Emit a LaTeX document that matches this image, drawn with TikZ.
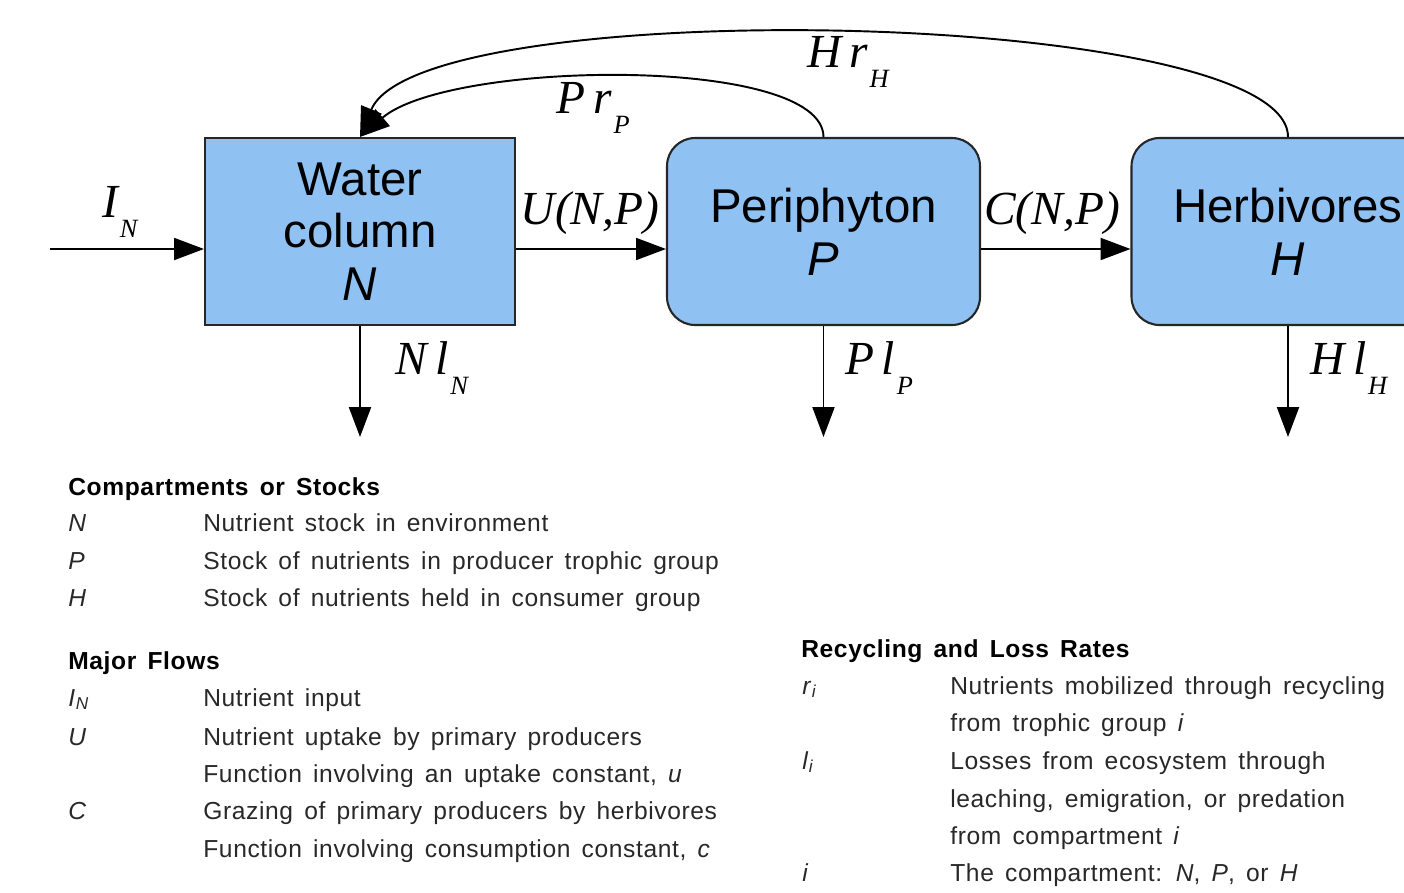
\documentclass[tikz,border=0pt]{standalone}
\usepackage{fontspec}
\setmainfont{Liberation Sans}
\newfontfamily\timesfont{Liberation Serif}
\newfontfamily\legendfont[LetterSpace=2.5, WordSpace=1.5]{Liberation Sans}
\usetikzlibrary{arrows.meta, positioning, calc}
\definecolor{boxblue}{RGB}{143,194,242}
\definecolor{legendtext}{RGB}{40,40,40}
\newcommand{\subs}[1]{\kern1pt\raisebox{-11pt}{\fontsize{15}{15}\selectfont #1}}

\begin{document}
\begin{tikzpicture}[
				x=0.02cm, y=-0.02cm,
				stock/.style={rectangle, draw=black!85, line width=1.2pt, fill=boxblue,
					minimum width=6.2cm, minimum height=3.74cm, align=center,
					font=\fontsize{27}{30}\selectfont, inner sep=0pt},
				roundstock/.style={stock, rounded corners=0.56cm, minimum width=6.26cm},
				flow/.style={-{Triangle[length=17pt, width=12.5pt]}, line width=1.1pt},
				rate/.style={font=\timesfont\itshape\fontsize{27}{30}\selectfont, inner sep=0pt},
				head/.style={anchor=base west, font=\legendfont\bfseries\fontsize{14}{16}\selectfont, inner sep=0pt},
				entry/.style={anchor=base west, font=\legendfont\fontsize{14}{16}\selectfont, text=legendtext, inner sep=0pt}
				]
				\clip (0,0) rectangle (1404,893);
				
				% --- Compartments ---
				\node[stock] (water) at (360,231.5) {Water\\ column\\ \textit{N}};
				\node[roundstock] (peri) at (823.5,231.5) {Periphyton\\ \textit{P}};
				\node[roundstock] (herb) at (1288,231.5) {Herbivores\\ \textit{H}};
				
				% --- Horizontal flows ---
				\coordinate (input) at (50,249);
				\draw[flow] (input) -- (input -| water.west);
				\draw[flow] ([yshift=-0.35cm]water.east) -- ([yshift=-0.35cm]peri.west);
				\draw[flow] ([yshift=-0.35cm]peri.east) -- ([yshift=-0.35cm]herb.west);
				\node[rate] (lblin) at (120,212) {I\subs{N}};
				\node[rate] (lbluptake) at (590,213) {U(N,P)};
				\node[rate] (lblgraze) at (1052,213) {C(N,P)};
				
				% --- Losses ---
				\coordinate (lossN) at (360,437);
				\coordinate (lossP) at (823.5,437);
				\coordinate (lossH) at (1288,437);
				\draw[flow] (water.south) -- (lossN);
				\draw[flow] (peri.south) -- (lossP);
				\draw[flow] (herb.south) -- (lossH);
				\node[rate] (lblNl) at (432,368) {N\,l\subs{N}};
				\node[rate] (lblPl) at (879,368) {P\,l\subs{P}};
				\node[rate] (lblHl) at (1349,368) {H\,l\subs{H}};
				
				% --- Recycling ---
				\draw[flow] (peri.north) .. controls (823,55) and (450,60) .. (water.north);
				\draw[flow] (herb.north) .. controls (1288,8) and (420,-8) .. (water.north);
				\node[rate] (lblPr) at (593,108) {P\,r\subs{P}};
				\node[rate] (lblHr) at (848,62) {H\,r\subs{H}};
				
				% --- Legend: compartments and flows ---
				\node[head] (hstocks) at (68,495) {Compartments or Stocks};
				\foreach \y/\sym/\txt in {531/{\textit{N}}/{Nutrient stock in environment},
						569/{\textit{P}}/{Stock of nutrients in producer trophic group},
						606/{\textit{H}}/{Stock of nutrients held in consumer group}}
					{\node[entry] at (68,\y) {\sym};
					 \node[entry] at (203,\y) {\txt};}
				\node[head] (hflows) at (68,669) {Major Flows};
				\foreach \y/\sym/\txt in {706/{\textit{I}\textsubscript{\textit{N}}}/{Nutrient input},
						745/{\textit{U}}/{Nutrient uptake by primary producers},
						782/{}/{Function involving an uptake constant, \textit{u}},
						819/{\textit{C}}/{Grazing of primary producers by herbivores},
						857/{}/{Function involving consumption constant, \textit{c}}}
					{\node[entry] at (68,\y) {\sym};
					 \node[entry] at (203,\y) {\txt};}
				
				% --- Legend: rates ---
				\node[head] (hrates) at (801,657) {Recycling and Loss Rates};
				\foreach \y/\sym/\txt in {694/{\textit{r}\textsubscript{\textit{i}}}/{Nutrients mobilized through recycling},
						731/{}/{from trophic group \textit{i}},
						769/{\textit{l}\textsubscript{\textit{i}}}/{Losses from ecosystem through},
						807/{}/{leaching, emigration, or predation},
						844/{}/{from compartment \textit{i}},
						881/{\textit{i}}/{The compartment: \textit{N}, \textit{P}, or \textit{H}}}
					{\node[entry] at (802,\y) {\sym};
					 \node[entry] at (950,\y) {\txt};}
			\end{tikzpicture}
\end{document}
